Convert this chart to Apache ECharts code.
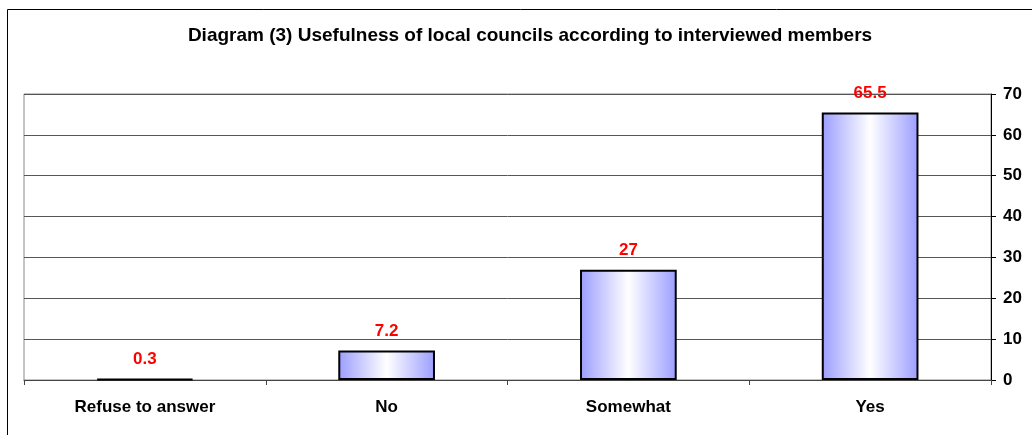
<!DOCTYPE html>
<html>
<head>
<meta charset="utf-8">
<script src="https://cdn.jsdelivr.net/npm/echarts@6/dist/echarts.min.js"></script>
<style>
  html, body { margin: 0; padding: 0; background: #fff; }
  #main { width: 1032px; height: 435px; }
</style>
</head>
<body>
<div id="main"></div>
<script>
// data
var categories = ["Refuse to answer", "No", "Somewhat", "Yes"];
var values = [0.3, 7.2, 27, 65.5];
var titleText = "Diagram (3) Usefulness of local councils according to interviewed members";

var myChart = echarts.init(document.getElementById("main"));

// blue -> white -> blue, like the excel fill
var barFill = {
  type: "linear",
  x: 0, y: 0, x2: 1, y2: 0,
  colorStops: [
    { offset: 0, color: "#9b9dff" },
    { offset: 0.5, color: "#ffffff" },
    { offset: 1, color: "#9b9dff" }
  ]
};

myChart.setOption({
  animation: false,
  textStyle: { fontFamily: "Liberation Sans, Arial, sans-serif" },
  title: {
    text: titleText,
    left: 525,
    top: 21,
    textAlign: "center",
    textStyle: { fontSize: 19, fontWeight: "bold", color: "#000" }
  },
  graphic: [
    {
      type: "rect",
      shape: { x: 7.5, y: 9.5, width: 1100, height: 600 },
      style: { fill: null, stroke: "#000", lineWidth: 1 },
      silent: true
    }
  ],
  grid: {
    left: 24,
    right: 41,
    top: 94,
    bottom: 55,
    show: true,
    borderColor: "#888",
    borderWidth: 1
  },
  xAxis: {
    type: "category",
    data: categories,
    axisLine: { lineStyle: { color: "#444", width: 1 } },
    axisTick: { show: true, length: 5, lineStyle: { color: "#444" } },
    axisLabel: { margin: 19, fontSize: 17, fontWeight: "bold", color: "#000" }
  },
  yAxis: {
    type: "value",
    position: "right",
    min: 0,
    max: 70,
    interval: 10,
    axisLine: { show: true, lineStyle: { color: "#000", width: 1 } },
    axisTick: { show: true, length: 5, lineStyle: { color: "#000" } },
    axisLabel: { margin: 12, fontSize: 17, fontWeight: "bold", color: "#000" },
    splitLine: { lineStyle: { color: "#555", width: 1 } }
  },
  series: [
    {
      type: "bar",
      data: values,
      barWidth: "40%",
      itemStyle: {
        color: barFill,
        borderColor: "#000",
        borderWidth: 2
      },
      label: {
        show: true,
        position: "top",
        distance: 11,
        color: "#ff0000",
        fontSize: 17,
        fontWeight: "bold"
      }
    }
  ]
});
</script>
</body>
</html>
